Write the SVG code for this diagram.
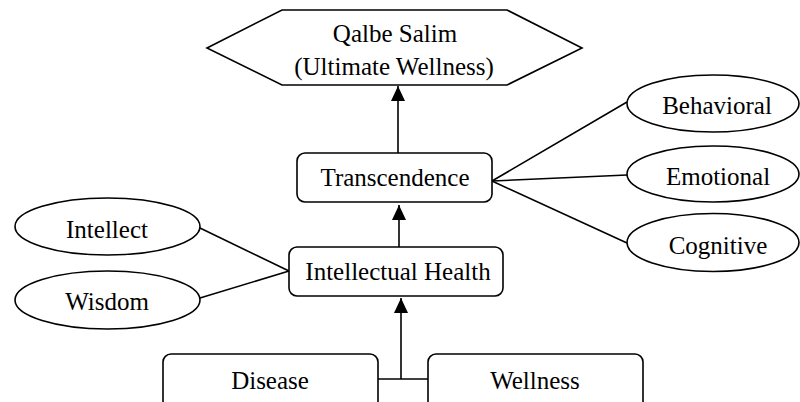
<svg xmlns="http://www.w3.org/2000/svg" width="800" height="402" viewBox="0 0 800 402">
<style>
.shape{fill:#fff;stroke:#000;stroke-width:1.6}
.line{fill:none;stroke:#000;stroke-width:1.6}
text{font-family:"Liberation Serif","Times New Roman",serif;font-size:25px;fill:#000;text-anchor:middle}
</style>
<defs>
<marker id="arr" markerUnits="userSpaceOnUse" markerWidth="15" markerHeight="15" viewBox="0 0 15 15" refX="15" refY="7" orient="auto">
<path d="M0,0 L15,7 L0,14 Z" fill="#000"/>
</marker>
</defs>
<rect width="800" height="402" fill="#fff"/>
<g id="connectors">
<line class="line" x1="398" y1="153" x2="398" y2="86" marker-end="url(#arr)"/>
<line class="line" x1="399" y1="247" x2="399" y2="205" marker-end="url(#arr)"/>
<polyline class="line" points="378,379 428,379"/>
<line class="line" x1="401" y1="379" x2="401" y2="298" marker-end="url(#arr)"/>
<line class="line" x1="492" y1="181" x2="627" y2="102"/>
<line class="line" x1="492" y1="181" x2="627" y2="175"/>
<line class="line" x1="492" y1="181" x2="627" y2="243"/>
<line class="line" x1="200" y1="228" x2="289" y2="271"/>
<line class="line" x1="200" y1="298" x2="289" y2="271"/>
</g>
<g id="qalbe">
<polygon class="shape" points="207,48 282,10 507,10 582,48 507,85 282,85"/>
<text x="395" y="42">Qalbe Salim</text>
<text x="394" y="75">(Ultimate Wellness)</text>
</g>
<g id="transcendence">
<rect class="shape" x="297" y="153" width="195" height="49" rx="8"/>
<text x="395" y="186">Transcendence</text>
</g>
<g id="intellectual">
<rect class="shape" x="289" y="247" width="214" height="49" rx="8"/>
<text x="398" y="280">Intellectual Health</text>
</g>
<g id="intellect">
<ellipse class="shape" cx="107.5" cy="226.5" rx="92.5" ry="28.5"/>
<text x="107" y="238">Intellect</text>
</g>
<g id="wisdom">
<ellipse class="shape" cx="107.5" cy="300" rx="92.5" ry="29"/>
<text x="107" y="310">Wisdom</text>
</g>
<g id="behavioral">
<ellipse class="shape" cx="713" cy="103.5" rx="86" ry="28.5"/>
<text x="717" y="114">Behavioral</text>
</g>
<g id="emotional">
<ellipse class="shape" cx="713" cy="174" rx="86" ry="28"/>
<text x="718" y="185">Emotional</text>
</g>
<g id="cognitive">
<ellipse class="shape" cx="713" cy="242.5" rx="86" ry="29"/>
<text x="718" y="254">Cognitive</text>
</g>
<g id="disease">
<rect class="shape" x="163" y="354" width="215" height="70" rx="8"/>
<text x="270" y="389">Disease</text>
</g>
<g id="wellness">
<rect class="shape" x="428" y="354" width="215" height="70" rx="8"/>
<text x="535" y="389">Wellness</text>
</g>
</svg>
